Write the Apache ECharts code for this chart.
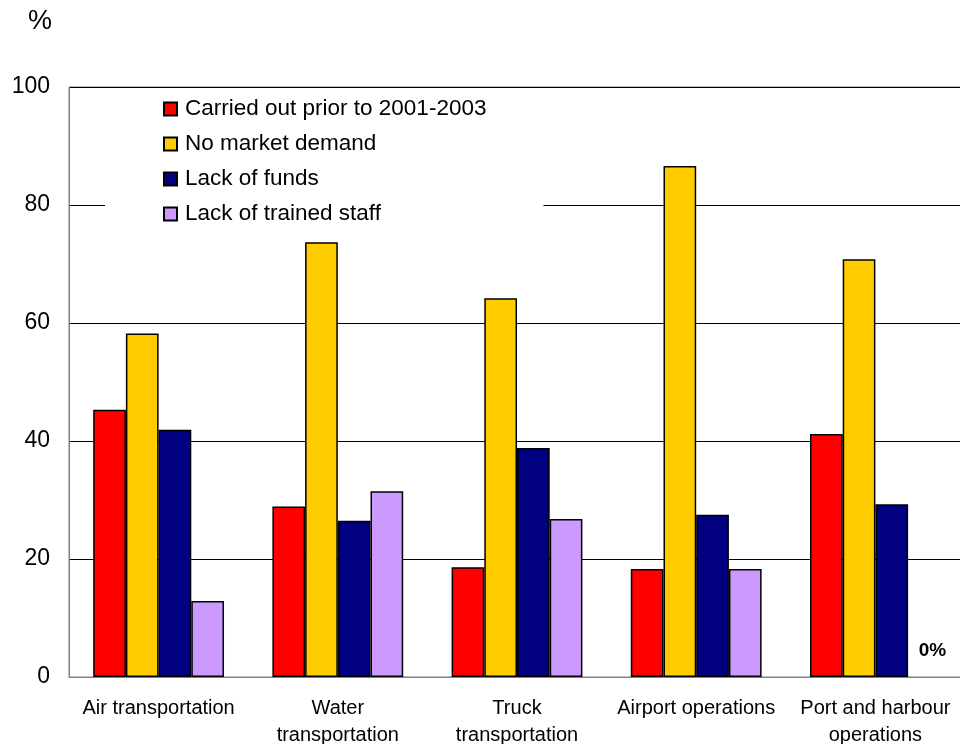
<!DOCTYPE html>
<html>
<head>
<meta charset="utf-8">
<script src="https://cdn.jsdelivr.net/npm/echarts@6/dist/echarts.min.js"></script>
<style>
  html, body { margin: 0; padding: 0; background: #fff; }
  #chart { width: 960px; height: 744px; }
</style>
</head>
<body>
<div id="chart"></div>
<script>
// Reasons for not carrying out activities, by transport sector (%)
const categories = ['Air transportation', 'Water\ntransportation', 'Truck\ntransportation', 'Airport operations', 'Port and harbour\noperations'];
const seriesNames = ['Carried out prior to 2001-2003', 'No market demand', 'Lack of funds', 'Lack of trained staff'];
const carriedOut = [45.3, 28.9, 18.6, 18.3, 41.2];
const noDemand = [58.2, 73.7, 64.2, 86.6, 70.8];
const lackFunds = [41.9, 26.5, 38.8, 27.5, 29.3];
const lackStaff = [12.9, 31.5, 26.8, 18.3, 0];
const yTicks = [0, 20, 40, 60, 80, 100];
const colors = ['#FF0000', '#FFCC00', '#000080', '#CC99FF'];

const font = 'Liberation Sans, Arial, sans-serif';
const values = [carriedOut, noDemand, lackFunds, lackStaff];

const series = values.map((vals, i) => ({
  name: seriesNames[i],
  type: 'bar',
  barGap: '0%',
  barCategoryGap: '27%',
  itemStyle: { color: colors[i], borderColor: '#000', borderWidth: 1.5 },
  data: vals.map(v => {
    // a zero share gets a "0%" note instead of a flat bar
    if (v === 0) {
      return {
        value: v,
        itemStyle: { borderWidth: 0, color: 'rgba(0,0,0,0)' },
        label: {
          show: true,
          position: 'top',
          distance: 17,
          offset: [8, 0],
          formatter: '0%',
          fontFamily: font,
          fontWeight: 'bold',
          fontSize: 19,
          color: '#000'
        }
      };
    }
    return v;
  })
}));

const chart = echarts.init(document.getElementById('chart'));
chart.setOption({
  animation: false,
  backgroundColor: '#fff',
  grid: {
    left: 69, right: -5, top: 87, bottom: 67,
    outerBoundsMode: 'none',
    containLabel: false,
    show: true, borderColor: '#808080', borderWidth: 1, backgroundColor: 'transparent'
  },
  legend: {
    orient: 'vertical',
    left: 105,
    top: 89,
    padding: [8, 57, 10, 58],
    backgroundColor: '#fff',
    itemWidth: 13,
    itemHeight: 13,
    itemGap: 11,
    icon: 'rect',
    textStyle: { fontFamily: font, fontSize: 22.5, color: '#000', lineHeight: 24, padding: [0, 0, 0, 3] },
    data: seriesNames
  },
  xAxis: {
    type: 'category',
    data: categories,
    axisLine: { lineStyle: { color: '#808080', width: 1 } },
    axisTick: { show: false },
    axisLabel: {
      fontFamily: font, fontSize: 20, color: '#000',
      margin: 18, lineHeight: 27, interval: 0
    }
  },
  yAxis: {
    type: 'value',
    min: yTicks[0],
    max: yTicks[yTicks.length - 1],
    interval: 20,
    name: '%',
    nameLocation: 'end',
    nameGap: 52,
    nameTextStyle: { fontFamily: font, fontSize: 27, color: '#000', align: 'right', padding: [0, 17, 0, 0] },
    axisLine: { show: true, lineStyle: { color: '#808080' } },
    axisTick: { show: false },
    axisLabel: { fontFamily: font, fontSize: 23, color: '#000', margin: 19 },
    splitLine: { lineStyle: { color: '#000', width: 1 } }
  },
  series: series
});
</script>
</body>
</html>
